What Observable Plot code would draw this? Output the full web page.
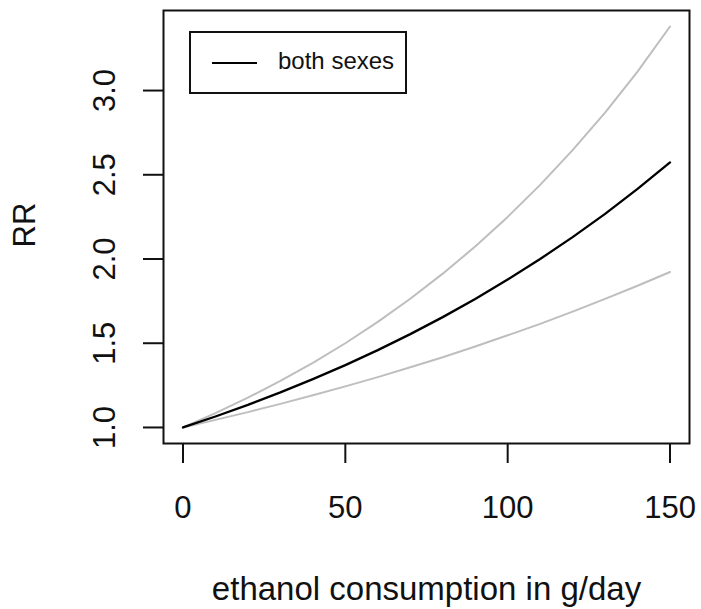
<!DOCTYPE html>
<html>
<head>
<meta charset="utf-8">
<script src="https://cdn.jsdelivr.net/npm/d3@7"></script>
<script src="https://cdn.jsdelivr.net/npm/@observablehq/plot@0.6"></script>
<style>
  html, body { margin: 0; padding: 0; background: #fff; }
  #wrap { position: relative; width: 701px; height: 609px; font-family: "Liberation Sans", Arial, sans-serif; }
  #legend { position: absolute; left: 189px; top: 31px; width: 214px; height: 59px; border: 2px solid #111; background: #fff; }
  #legend .key { position: absolute; left: 21px; top: 29px; width: 45px; height: 0; border-top: 2px solid #000; }
  #legend .lab { position: absolute; left: 87px; top: 12px; font-size: 24px; line-height: 32px; color: #111; white-space: nowrap; }
</style>
</head>
<body>
<div id="wrap"></div>
<script>
// ethanol consumption in g/day
const consumption = [0, 10, 20, 30, 40, 50, 60, 70, 80, 90, 100, 110, 120, 130, 140, 150];
// relative risk, both sexes (point estimate)
const rrBoth  = [1.00, 1.065, 1.134, 1.208, 1.287, 1.370, 1.459, 1.554, 1.655, 1.763, 1.878, 2.000, 2.130, 2.268, 2.416, 2.573];
// lower confidence bound
const rrLower = [1.00, 1.045, 1.091, 1.140, 1.191, 1.244, 1.299, 1.357, 1.417, 1.481, 1.547, 1.615, 1.688, 1.763, 1.841, 1.923];
// upper confidence bound
const rrUpper = [1.00, 1.085, 1.177, 1.276, 1.384, 1.500, 1.627, 1.764, 1.913, 2.074, 2.250, 2.440, 2.646, 2.869, 3.112, 3.380];

const xTicks = [0, 50, 100, 150];
const yTicks = [1.0, 1.5, 2.0, 2.5, 3.0];
const xTitle = "ethanol consumption in g/day";
const yTitle = "RR";
const legendLabel = "both sexes";

const rows = consumption.map((c, i) => ({c, mid: rrBoth[i], lo: rrLower[i], hi: rrUpper[i]}));
const font = "'Liberation Sans', Arial, sans-serif";

const chart = Plot.plot({
  width: 701,
  height: 609,
  marginLeft: 163,
  marginRight: 12,
  marginTop: 10,
  marginBottom: 166,
  x: {domain: [-6, 156]},
  y: {domain: [0.9048, 3.4752]},
  style: {fontFamily: font, background: "white", color: "#111", overflow: "visible"},
  marks: [
    Plot.axisX(xTicks, {tickSize: 20, tickPadding: 32, fontSize: 31, label: null, strokeWidth: 2, tickFormat: d => String(d)}),
    Plot.axisY(yTicks, {tickSize: 20, tickFormat: () => "", label: null, strokeWidth: 2}),
    Plot.text(yTicks, {y: d => d, text: d => d.toFixed(1), frameAnchor: "left", dx: -58, rotate: -90, fontSize: 31, textAnchor: "middle", lineAnchor: "middle", fill: "#111"}),
    Plot.text([xTitle], {text: d => d, frameAnchor: "bottom", dy: 146, fontSize: 33, textAnchor: "middle", lineAnchor: "middle", fill: "#111"}),
    Plot.text([yTitle], {text: d => d, frameAnchor: "left", dx: -138, dy: -2, rotate: -90, fontSize: 31, textAnchor: "middle", lineAnchor: "middle", fill: "#111"}),
    Plot.line(rows, {x: "c", y: "lo", stroke: "#bebebe", strokeWidth: 2}),
    Plot.line(rows, {x: "c", y: "hi", stroke: "#bebebe", strokeWidth: 2}),
    Plot.line(rows, {x: "c", y: "mid", stroke: "#000", strokeWidth: 2.3}),
    Plot.frame({stroke: "#111", strokeWidth: 2})
  ]
});
const wrap = document.getElementById("wrap");
wrap.appendChild(chart);
const legend = document.createElement("div");
legend.id = "legend";
legend.innerHTML = `<div class="key"></div><div class="lab"></div>`;
legend.querySelector(".lab").textContent = legendLabel;
wrap.appendChild(legend);
</script>
</body>
</html>
